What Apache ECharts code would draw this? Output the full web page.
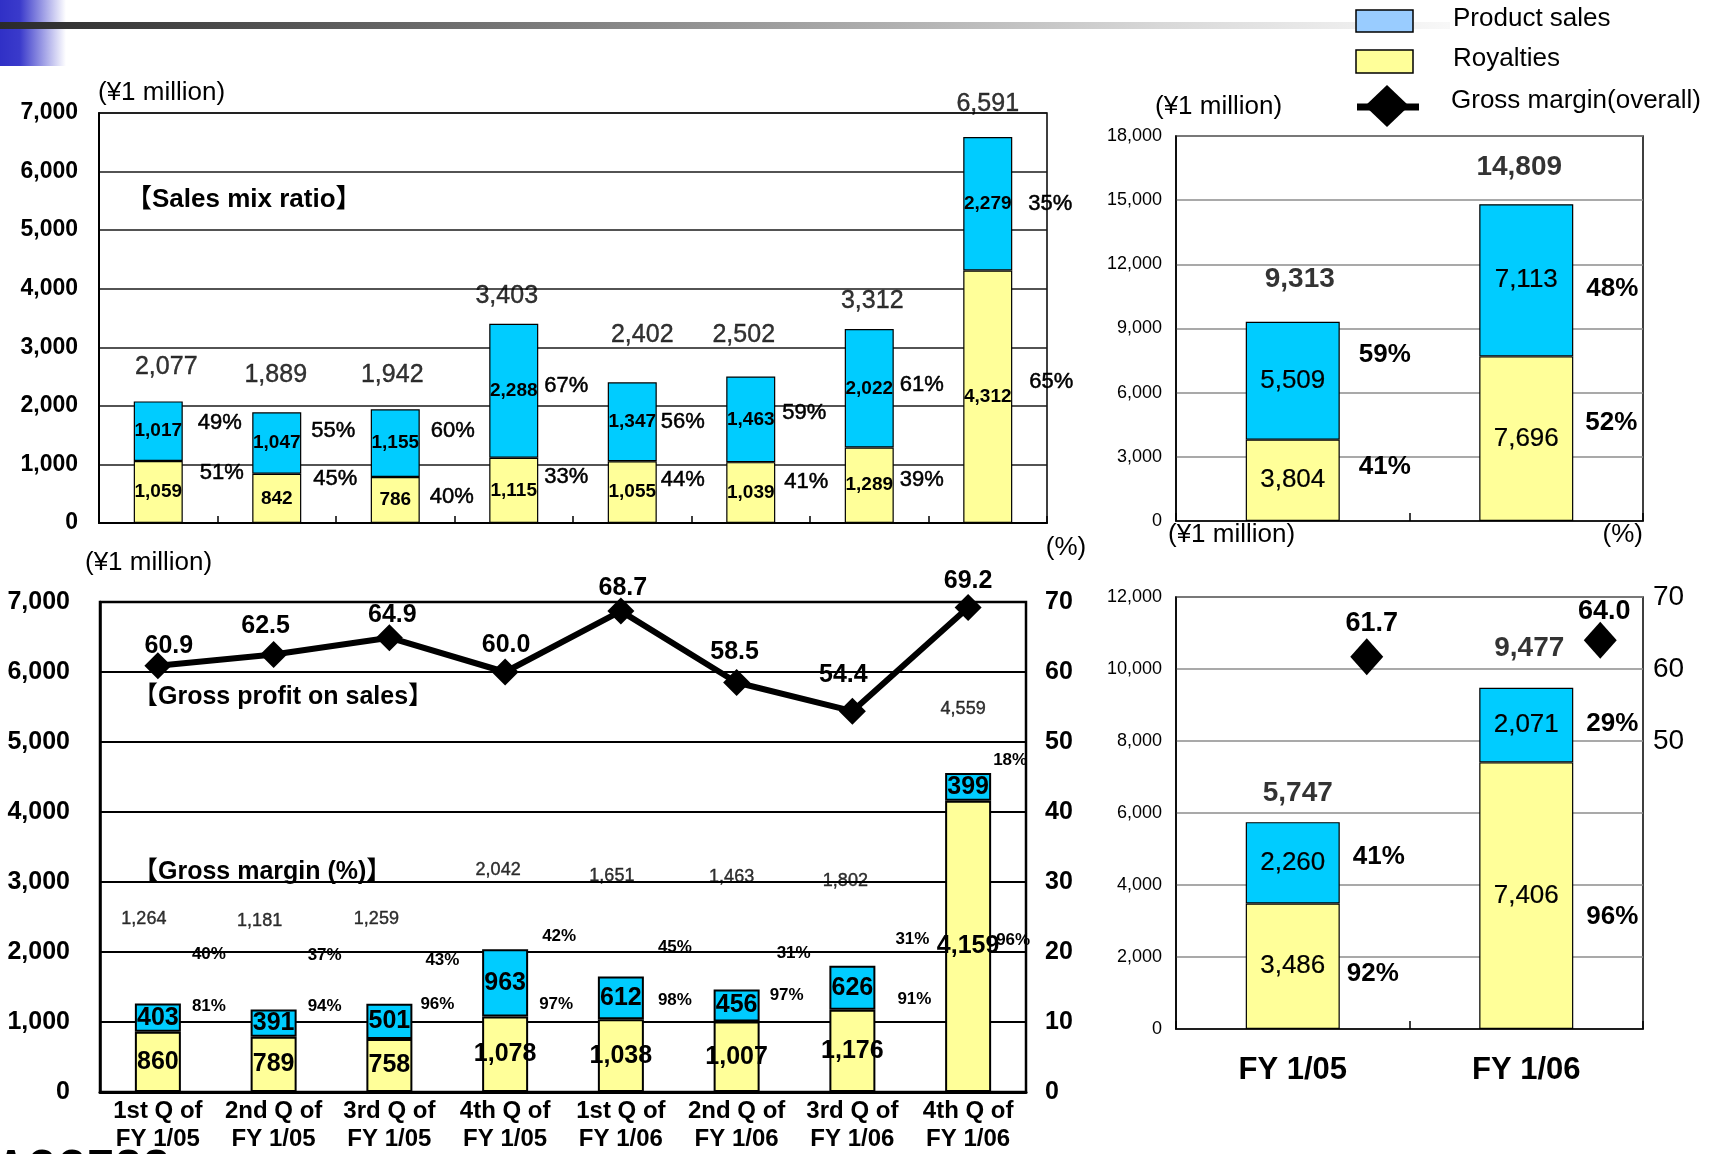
<!DOCTYPE html>
<html>
<head>
<meta charset="utf-8">
<title>Sales mix and gross profit</title>
<script src="https://cdn.jsdelivr.net/npm/echarts@6/dist/echarts.min.js"></script>
<style>
  html, body { margin: 0; padding: 0; background: #fff; }
  #main { width: 1720px; height: 1154px; }
</style>
</head>
<body>
<div id="main"></div>
<script>
// ---- Categories ----
const quarters = [
  '1st Q of\nFY 1/05', '2nd Q of\nFY 1/05', '3rd Q of\nFY 1/05', '4th Q of\nFY 1/05',
  '1st Q of\nFY 1/06', '2nd Q of\nFY 1/06', '3rd Q of\nFY 1/06', '4th Q of\nFY 1/06'
];
const years = ['FY 1/05', 'FY 1/06'];

// ---- Sales mix (¥1 million) by quarter ----
const qSalesProduct = [1017, 1047, 1155, 2288, 1347, 1463, 2022, 2279];
const qSalesRoyalty = [1059, 842, 786, 1115, 1055, 1039, 1289, 4312];
const qSalesTotal = [2077, 1889, 1942, 3403, 2402, 2502, 3312, 6591];
const qSalesProductPct = [49, 55, 60, 67, 56, 59, 61, 35];
const qSalesRoyaltyPct = [51, 45, 40, 33, 44, 41, 39, 65];

// ---- Sales mix (¥1 million) by fiscal year ----
const ySalesProduct = [5509, 7113];
const ySalesRoyalty = [3804, 7696];
const ySalesTotal = [9313, 14809];
const ySalesProductPct = [59, 48];
const ySalesRoyaltyPct = [41, 52];

// ---- Gross profit (¥1 million) and margins by quarter ----
const qGpProduct = [403, 391, 501, 963, 612, 456, 626, 399];
const qGpRoyalty = [860, 789, 758, 1078, 1038, 1007, 1176, 4159];
const qGpTotal = [1264, 1181, 1259, 2042, 1651, 1463, 1802, 4559];
const qGpProductMargin = [40, 37, 43, 42, 45, 31, 31, 18];
const qGpRoyaltyMargin = [81, 94, 96, 97, 98, 97, 91, 96];
const qGrossMargin = [60.9, 62.5, 64.9, 60.0, 68.7, 58.5, 54.4, 69.2];

// ---- Gross profit (¥1 million) and margins by fiscal year ----
const yGpProduct = [2260, 2071];
const yGpRoyalty = [3486, 7406];
const yGpTotal = [5747, 9477];
const yGpProductMargin = [41, 29];
const yGpRoyaltyMargin = [92, 96];
const yGrossMargin = [61.7, 64.0];

// ---- Axis scales ----
const salesQAxis = { min: 0, max: 7000, interval: 1000 };
const salesYAxis = { min: 0, max: 18000, interval: 3000 };
const gpQAxis = { min: 0, max: 7000, interval: 1000 };
const marginQAxis = { min: 0, max: 70, interval: 10 };
const gpYAxis = { min: 0, max: 12000, interval: 2000 };
const marginYAxis = { min: 10, max: 70, interval: 10 };

// ---- Label nudges [dx, dy] in pixels ----
const tlTotalNudge = [[8,-34],[-1,-37],[-3,-34],[-7,-28],[10,-47],[-7,-41],[3,-28],[0,-33]];
const tlProdPctNudge = [[3,-8],[-2,-12],[-1,-12],[-6,-5],[-8,0],[-5,-6],[-6,-3],[4,0]];
const tlRoyPctNudge = [[5,-19],[0,-19],[-2,-3],[-6,-13],[-8,-12],[-3,-11],[-6,-5],[5,-15]];
const trTotalNudge = [[7,-43],[-7,-37]];
const trProdPctNudge = [[3,-26],[-3,9]];
const trRoyPctNudge = [[3,-13],[-4,-16]];
const blTotalNudge = [[-14,-84],[-14,-88],[-13,-85],[-7,-79],[-9,-100],[-5,-113],[-7,-85],[-5,-64]];
const blProdPctNudge = [[3,-63],[3,-68],[5,-61],[6,-47],[6,-51],[9,-52],[12,-48],[-6,-27]];
const blRoyPctNudge = [[3,-56],[3,-58],[0,-61],[3,-50],[6,-55],[2,-61],[14,-52],[-3,-6]];
const blMarginNudge = [[11,-20],[-8,-28],[3,-23],[1,-27],[2,-23],[-2,-30],[-9,-36],[0,-26]];
const brTotalNudge = [[5,-29],[3,-40]];
const brProdPctNudge = [[-3,-6],[-3,-1]];
const brRoyPctNudge = [[-9,8],[-3,21]];
const brMarginNudge = [[5,-33],[4,-29]];

// ---- Styling ----
const BLUE = '#00CCFF';
const YELLOW = '#FFFF99';
const SANS = "'Liberation Sans', Arial, 'Noto Sans CJK JP', sans-serif";
const fmt = v => Number(v).toLocaleString('en-US');

// text style; `heavy` thickens regular-weight strokes slightly
function txt(size, weight, heavy) {
  return {
    fontSize: size, fontWeight: weight, fontFamily: SANS, color: '#000',
    textBorderColor: '#000', textBorderWidth: heavy || 0
  };
}

// Stacked royalty/product bars with value labels inside, percentage labels to the right
// (transparent overlay stack) and the total above (invisible scatter points).
function stackedSeries(o) {
  const base = {
    type: 'bar', xAxisIndex: o.x, yAxisIndex: o.y, barWidth: o.barWidth, barGap: '-100%',
    animation: false
  };
  const inside = Object.assign({ show: true, position: 'inside', formatter: p => fmt(p.value) }, o.valueFont);
  const pctLabel = (arr) => Object.assign({
    show: true, position: 'right', distance: o.pctDistance,
    formatter: p => arr[p.dataIndex] + '%'
  }, o.pctFont);
  const nudged = (vals, nudge) => vals.map((v, i) => ({ value: v, label: { offset: nudge[i] } }));
  return [
    Object.assign({}, base, {
      name: 'Royalties', stack: o.key, data: o.royalty,
      itemStyle: { color: YELLOW, borderColor: '#000', borderWidth: o.border },
      label: inside
    }),
    Object.assign({}, base, {
      name: 'Product sales', stack: o.key, data: o.product,
      itemStyle: { color: BLUE, borderColor: '#000', borderWidth: o.border },
      label: inside
    }),
    Object.assign({}, base, {
      name: 'Royalties share', stack: o.key + '-pct', silent: true,
      data: nudged(o.royalty, o.royPctNudge),
      itemStyle: { color: 'rgba(0,0,0,0)', borderWidth: 0 },
      label: pctLabel(o.royaltyPct)
    }),
    Object.assign({}, base, {
      name: 'Product share', stack: o.key + '-pct', silent: true,
      data: nudged(o.product, o.prodPctNudge),
      itemStyle: { color: 'rgba(0,0,0,0)', borderWidth: 0 },
      label: pctLabel(o.productPct)
    }),
    {
      type: 'scatter', name: 'Total', xAxisIndex: o.x, yAxisIndex: o.y, silent: true,
      symbolSize: 1, itemStyle: { color: 'rgba(0,0,0,0)' }, animation: false, z: 5,
      data: o.total.map((v, i) => ({ value: [i, v], label: { offset: o.totalNudge[i] } })),
      label: Object.assign({ show: true, position: 'inside', formatter: p => fmt(p.value[1]) }, o.totalFont)
    }
  ];
}

const gridLineBlack = { show: true, lineStyle: { color: '#1a1a1a', width: 1.5 } };
const gridLineGray = { show: true, lineStyle: { color: '#8c8c8c', width: 1.5 } };
const clear = 'rgba(0,0,0,0)';

const option = {
  backgroundColor: '#fff',
  animation: false,
  grid: [
    { left: 99, top: 113, width: 948, height: 410, show: true, borderColor: '#000', borderWidth: 1.5, backgroundColor: clear },
    { left: 1176, top: 136, width: 467, height: 385, show: true, borderColor: '#000', borderWidth: 1.5, backgroundColor: clear },
    { left: 100, top: 602, width: 926, height: 490, show: true, borderColor: '#000', borderWidth: 2.5, backgroundColor: clear },
    { left: 1176, top: 597, width: 467, height: 432, show: true, borderColor: '#000', borderWidth: 1.5, backgroundColor: clear }
  ],
  xAxis: [
    { gridIndex: 0, type: 'category', data: quarters,
      axisLabel: { show: false },
      axisTick: { show: true, inside: true, length: 7, lineStyle: { color: '#000', width: 1.5 } },
      axisLine: { show: true, lineStyle: { color: '#000', width: 2 } } },
    { gridIndex: 1, type: 'category', data: years,
      axisLabel: { show: false },
      axisTick: { show: true, inside: true, length: 8, lineStyle: { color: '#000', width: 1.5 } },
      axisLine: { show: true, lineStyle: { color: '#000', width: 1.5 } } },
    { gridIndex: 2, type: 'category', data: quarters,
      axisLabel: Object.assign({ interval: 0, margin: 5, lineHeight: 28 }, txt(24, 'bold')),
      axisTick: { show: false },
      axisLine: { show: true, lineStyle: { color: '#000', width: 3 } } },
    { gridIndex: 3, type: 'category', data: years,
      axisLabel: Object.assign({ interval: 0, margin: 26 }, txt(31, 'bold')),
      axisTick: { show: true, inside: true, length: 8, lineStyle: { color: '#000', width: 1.5 } },
      axisLine: { show: true, lineStyle: { color: '#000', width: 1.5 } } }
  ],
  yAxis: [
    Object.assign({ gridIndex: 0, type: 'value',
      axisLine: { show: true, lineStyle: { color: '#000', width: 2 } }, axisTick: { show: false },
      axisLabel: Object.assign({ margin: 21, formatter: fmt }, txt(23, 'bold')),
      splitLine: gridLineBlack }, salesQAxis),
    Object.assign({ gridIndex: 1, type: 'value',
      axisLine: { show: true, lineStyle: { color: '#000', width: 1.5 } }, axisTick: { show: false },
      axisLabel: Object.assign({ margin: 14, formatter: fmt }, txt(18, 'normal')),
      splitLine: gridLineGray }, salesYAxis),
    Object.assign({ gridIndex: 2, type: 'value',
      axisLine: { show: true, lineStyle: { color: '#000', width: 2.5 } }, axisTick: { show: false },
      axisLabel: Object.assign({ margin: 30, formatter: fmt }, txt(25, 'bold')),
      splitLine: { show: true, lineStyle: { color: '#000', width: 2 } } }, gpQAxis),
    Object.assign({ gridIndex: 2, type: 'value', position: 'right',
      axisLine: { show: false }, axisTick: { show: false },
      axisLabel: Object.assign({ margin: 19 }, txt(25, 'bold')),
      splitLine: { show: false } }, marginQAxis),
    Object.assign({ gridIndex: 3, type: 'value',
      axisLine: { show: true, lineStyle: { color: '#000', width: 1.5 } }, axisTick: { show: false },
      axisLabel: Object.assign({ margin: 14, formatter: fmt }, txt(18, 'normal')),
      splitLine: gridLineGray }, gpYAxis),
    Object.assign({ gridIndex: 3, type: 'value', position: 'right',
      axisLine: { show: false }, axisTick: { show: false },
      axisLabel: Object.assign({ margin: 10, formatter: v => (v >= 50 ? String(v) : '') }, txt(28, 'normal')),
      splitLine: { show: false } }, marginYAxis)
  ],
  series: [].concat(
    // Sales mix, quarterly
    stackedSeries({
      x: 0, y: 0, key: 'tl', barWidth: 49, border: 1.2,
      royalty: qSalesRoyalty, product: qSalesProduct, total: qSalesTotal,
      royaltyPct: qSalesRoyaltyPct, productPct: qSalesProductPct,
      royPctNudge: tlRoyPctNudge, prodPctNudge: tlProdPctNudge, totalNudge: tlTotalNudge,
      pctDistance: 12,
      valueFont: txt(19, 'bold'), pctFont: txt(22, 'normal', 0.5), totalFont: txt(25, 'normal', 0.4)
    }),
    // Sales mix, fiscal year
    stackedSeries({
      x: 1, y: 1, key: 'tr', barWidth: 94, border: 1.2,
      royalty: ySalesRoyalty, product: ySalesProduct, total: ySalesTotal,
      royaltyPct: ySalesRoyaltyPct, productPct: ySalesProductPct,
      royPctNudge: trRoyPctNudge, prodPctNudge: trProdPctNudge, totalNudge: trTotalNudge,
      pctDistance: 16,
      valueFont: txt(26, 'normal', 0.2), pctFont: txt(26, 'bold'), totalFont: txt(28, 'bold')
    }),
    // Gross profit, quarterly
    stackedSeries({
      x: 2, y: 2, key: 'bl', barWidth: 46, border: 2,
      royalty: qGpRoyalty, product: qGpProduct, total: qGpTotal,
      royaltyPct: qGpRoyaltyMargin, productPct: qGpProductMargin,
      royPctNudge: blRoyPctNudge, prodPctNudge: blProdPctNudge, totalNudge: blTotalNudge,
      pctDistance: 8,
      valueFont: txt(25, 'bold'), pctFont: txt(17, 'bold'), totalFont: txt(18, 'normal', 0.4)
    }),
    // Gross profit, fiscal year
    stackedSeries({
      x: 3, y: 4, key: 'br', barWidth: 94, border: 1.2,
      royalty: yGpRoyalty, product: yGpProduct, total: yGpTotal,
      royaltyPct: yGpRoyaltyMargin, productPct: yGpProductMargin,
      royPctNudge: brRoyPctNudge, prodPctNudge: brProdPctNudge, totalNudge: brTotalNudge,
      pctDistance: 16,
      valueFont: txt(26, 'normal', 0.2), pctFont: txt(26, 'bold'), totalFont: txt(28, 'bold')
    }),
    [
      {
        type: 'line', name: 'Gross margin(overall)', xAxisIndex: 2, yAxisIndex: 3, z: 6,
        data: qGrossMargin.map((v, i) => ({ value: v, label: { offset: blMarginNudge[i] } })),
        lineStyle: { color: '#000', width: 6 },
        itemStyle: { color: '#000', opacity: 1 },
        symbol: 'diamond', symbolSize: [27, 27], showAllSymbol: true,
        label: Object.assign({ show: true, position: 'inside', formatter: p => Number(p.value).toFixed(1) }, txt(25, 'bold'))
      },
      {
        type: 'scatter', name: 'Gross margin(overall)', xAxisIndex: 3, yAxisIndex: 5, z: 6,
        data: yGrossMargin.map((v, i) => ({ value: [i, v], label: { offset: brMarginNudge[i] } })),
        symbol: 'diamond', symbolSize: [33, 37], symbolOffset: [74, 0],
        itemStyle: { color: '#000', opacity: 1 },
        label: Object.assign({ show: true, position: 'inside', formatter: p => Number(p.value[1]).toFixed(1) }, txt(27, 'bold'))
      }
    ]
  ),
  graphic: [
    // slide header decoration
    { type: 'rect', z: -10, shape: { x: 0, y: 0, width: 66, height: 66 },
      style: { fill: new echarts.graphic.LinearGradient(0, 0, 1, 0, [
        { offset: 0, color: '#3030c6' }, { offset: 0.3, color: '#3a3acb' }, { offset: 1, color: '#ffffff' }]) } },
    { type: 'rect', z: -9, shape: { x: 0, y: 22, width: 1450, height: 7 },
      style: { fill: new echarts.graphic.LinearGradient(0, 0, 1, 0, [
        { offset: 0, color: '#2a2a2a' }, { offset: 0.45, color: '#8c8c8c' }, { offset: 0.8, color: '#d8d8d8' }, { offset: 1, color: '#f8f8f8' }]) } },

    // legend
    { type: 'rect', shape: { x: 1356, y: 10, width: 57, height: 22 }, style: { fill: '#99CCFF', stroke: '#000', lineWidth: 1.5 } },
    { type: 'text', x: 1453, y: 19, style: { text: 'Product sales', font: '26px ' + SANS, fill: '#000', verticalAlign: 'middle' } },
    { type: 'rect', shape: { x: 1356, y: 50, width: 57, height: 23 }, style: { fill: '#FFFF99', stroke: '#000', lineWidth: 1.5 } },
    { type: 'text', x: 1453, y: 59, style: { text: 'Royalties', font: '26px ' + SANS, fill: '#000', verticalAlign: 'middle' } },
    { type: 'line', shape: { x1: 1357, y1: 107, x2: 1419, y2: 107 }, style: { stroke: '#000', lineWidth: 7 } },
    { type: 'polygon', shape: { points: [[1387, 85], [1409, 106], [1387, 127], [1365, 106]] }, style: { fill: '#000' } },
    { type: 'text', x: 1451, y: 101, style: { text: 'Gross margin(overall)', font: '26px ' + SANS, fill: '#000', verticalAlign: 'middle' } },

    // chart captions and units
    { type: 'text', x: 98, y: 93, style: { text: '(¥1 million)', font: '26px ' + SANS, fill: '#000', verticalAlign: 'middle' } },
    { type: 'text', x: 126, y: 200, style: { text: '【Sales mix ratio】', font: 'bold 26px ' + SANS, fill: '#000', verticalAlign: 'middle' } },
    { type: 'text', x: 1155, y: 107, style: { text: '(¥1 million)', font: '26px ' + SANS, fill: '#000', verticalAlign: 'middle' } },
    { type: 'text', x: 1168, y: 535, style: { text: '(¥1 million)', font: '26px ' + SANS, fill: '#000', verticalAlign: 'middle' } },
    { type: 'text', x: 1643, y: 535, style: { text: '(%)', font: '26px ' + SANS, fill: '#000', verticalAlign: 'middle', align: 'right' } },
    { type: 'text', x: 85, y: 563, style: { text: '(¥1 million)', font: '26px ' + SANS, fill: '#000', verticalAlign: 'middle' } },
    { type: 'text', x: 1066, y: 548, style: { text: '(%)', font: '26px ' + SANS, fill: '#000', verticalAlign: 'middle', align: 'center' } },
    { type: 'text', x: 133, y: 697, style: { text: '【Gross profit on sales】', font: 'bold 25px ' + SANS, fill: '#000', verticalAlign: 'middle' } },
    { type: 'text', x: 133, y: 872, style: { text: '【Gross margin (%)】', font: 'bold 25px ' + SANS, fill: '#000', verticalAlign: 'middle' } },

    // company logo at the bottom edge
    { type: 'text', x: -4, y: 1145, scaleX: 0.72, style: { text: 'ACCESS', font: 'bold 58px ' + SANS, fill: '#000', verticalAlign: 'top' } }
  ]
};

const chart = echarts.init(document.getElementById('main'), null, { renderer: 'canvas', width: 1720, height: 1154 });
chart.setOption(option);
</script>
</body>
</html>
